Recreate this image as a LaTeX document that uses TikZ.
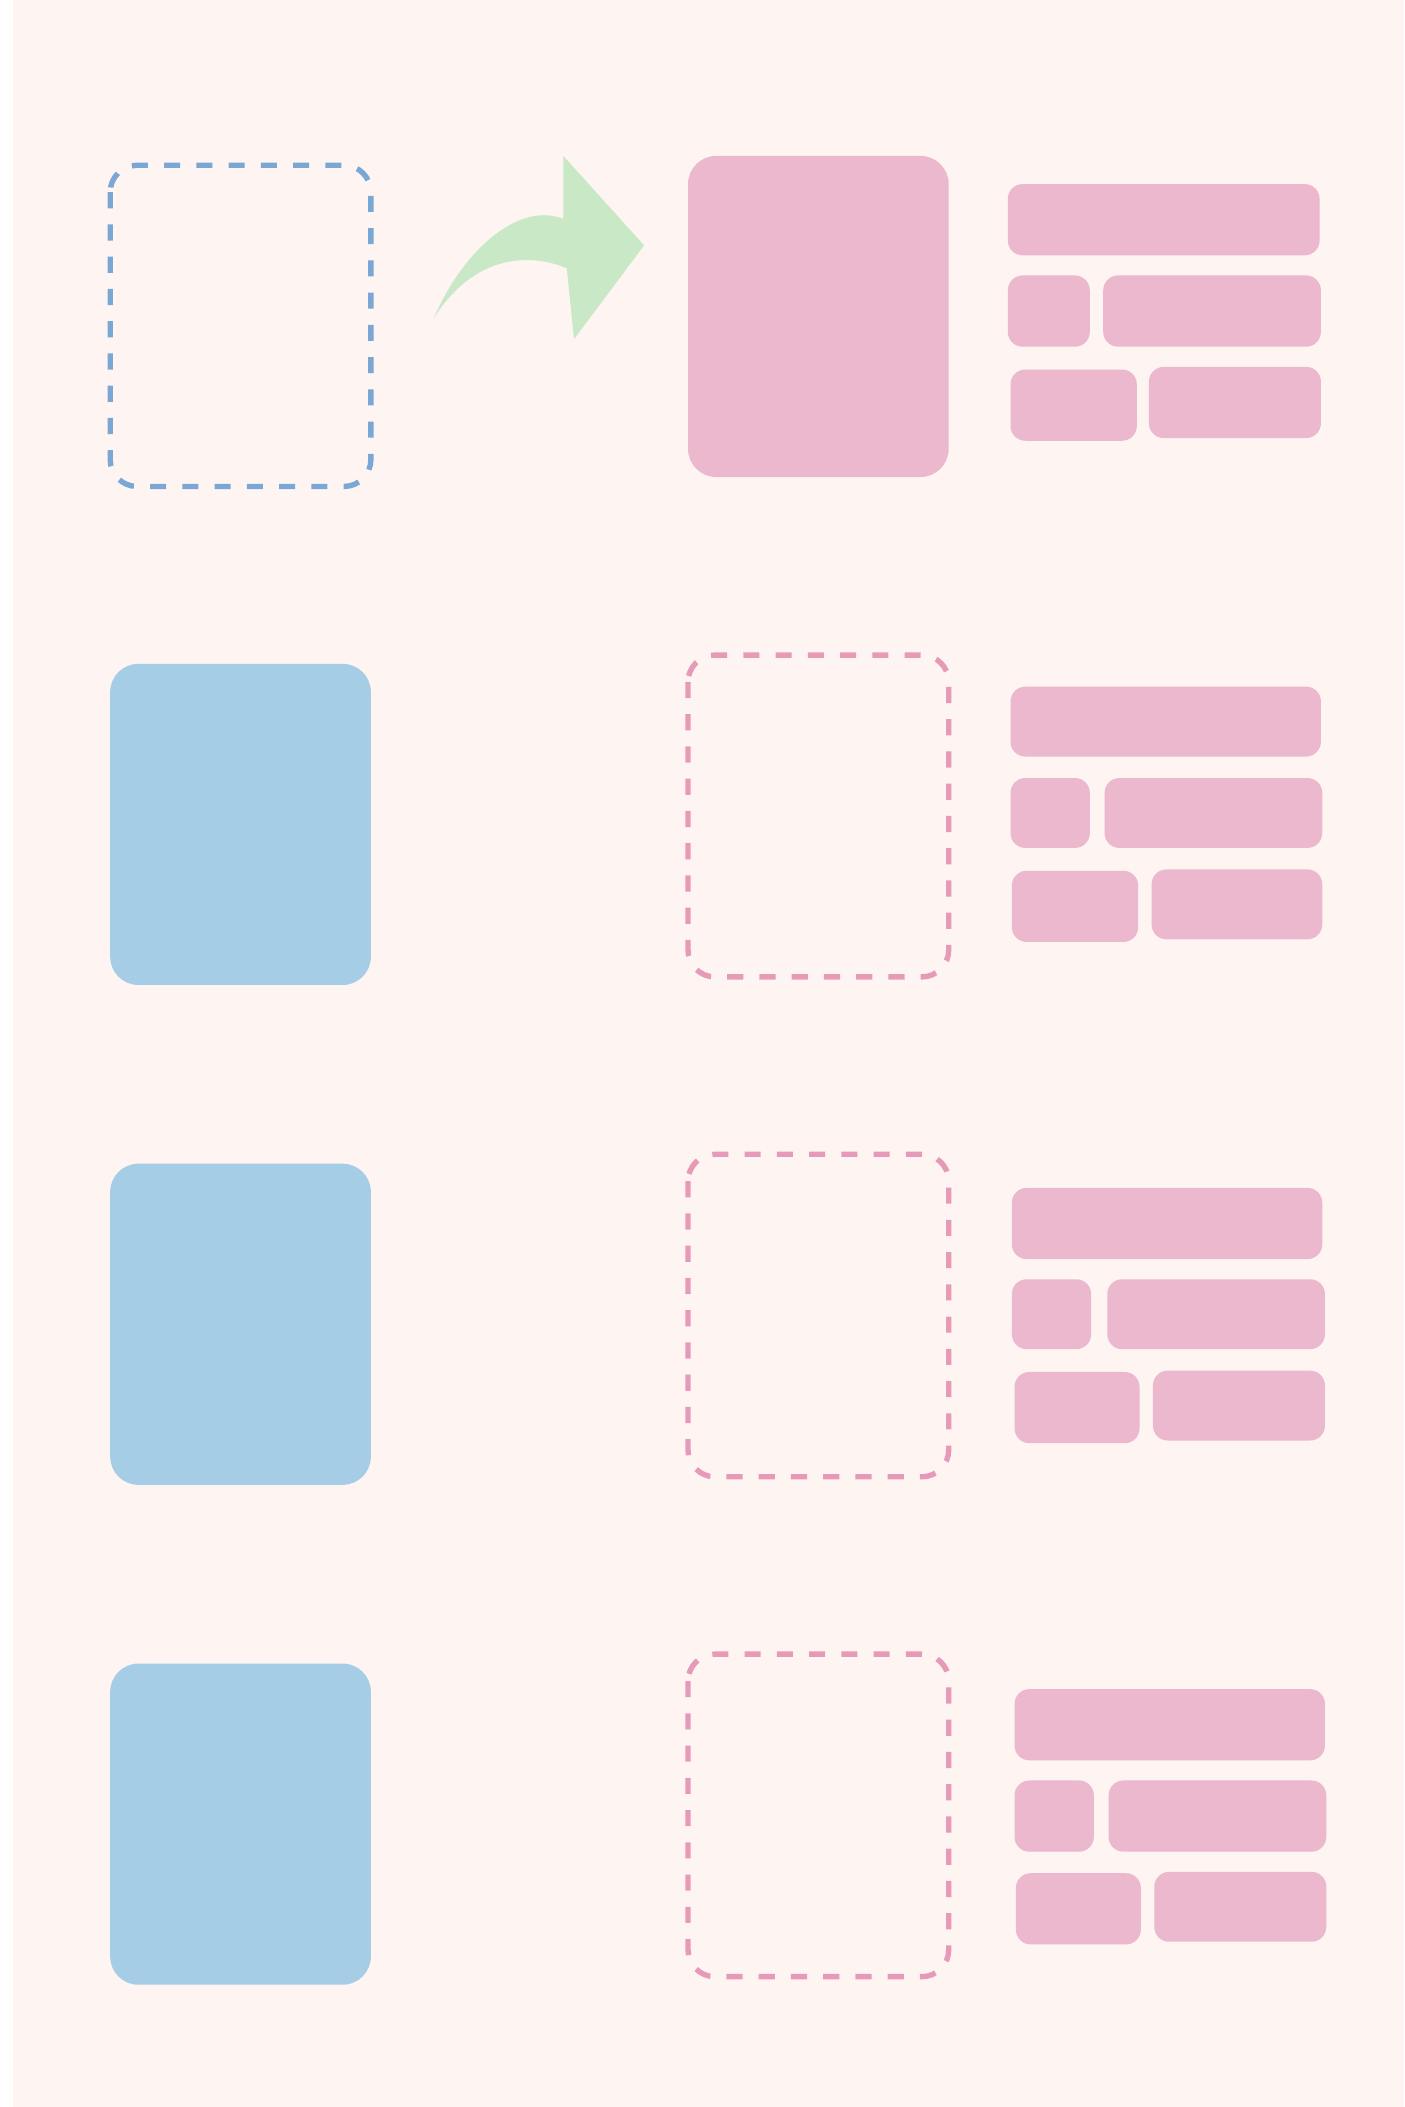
\documentclass[tikz,border=0pt]{standalone}
\begin{document}
\begin{tikzpicture}[x=1pt,y=-1pt,
  bgfill/.style={fill=bgpink},
  bluedash/.style={draw=dashblue,line width=4pt,dash pattern=on 12pt off 12pt,rounded corners=20pt},
  pinkdash/.style={draw=dashpink,line width=4pt,dash pattern=on 12pt off 12pt,rounded corners=20pt},
  bluebox/.style={fill=boxblue,rounded corners=21pt},
  pinkbox/.style={fill=boxpink,rounded corners=21pt},
  tile/.style={fill=boxpink,rounded corners=11pt},
  arrowshape/.style={fill=arrowgreen}]
\definecolor{bgpink}{HTML}{FEF4F2}
\definecolor{dashblue}{HTML}{7BA7D4}
\definecolor{dashpink}{HTML}{E79AB8}
\definecolor{boxblue}{HTML}{A5CDE5}
\definecolor{boxpink}{HTML}{ECB8CE}
\definecolor{arrowgreen}{HTML}{C9E8C6}
\useasboundingbox (0,0) rectangle (1045,1568);
\fill[white] (0,0) rectangle (1045,1568);
\fill[bgfill] (10,0) rectangle (1045,1568);

% row 1
\draw[bluedash] (82,123) rectangle (276,362);
\fill[arrowshape] (322.5,237.4) .. controls (346,183) and (388,150) .. (419.3,163)
  -- (419.3,116.1) -- (479.3,182.6) -- (427.2,252.3) -- (421.8,199.7)
  .. controls (400,190) and (355,185) .. (322.5,237.4) -- cycle;
\fill[pinkbox] (512,116) rectangle (706,355);
\fill[tile] (750,137) rectangle (982,190);
\fill[tile] (750,205) rectangle (811,258);
\fill[tile] (821,205) rectangle (983,258);
\fill[tile] (752,275) rectangle (846,328);
\fill[tile] (855,273) rectangle (983,326);

% row 2
\fill[bluebox] (82,494) rectangle (276,733);
\draw[pinkdash] (512,487.5) rectangle (706,727);
\fill[tile] (752,511) rectangle (983,563);
\fill[tile] (752,579) rectangle (811,631);
\fill[tile] (822,579) rectangle (984,631);
\fill[tile] (753,648) rectangle (847,701);
\fill[tile] (857,647) rectangle (984,699);

% row 3
\fill[bluebox] (82,866) rectangle (276,1105);
\draw[pinkdash] (512,859) rectangle (706,1099);
\fill[tile] (753,884) rectangle (984,937);
\fill[tile] (753,952) rectangle (812,1004);
\fill[tile] (824,952) rectangle (986,1004);
\fill[tile] (755,1021) rectangle (848,1074);
\fill[tile] (858,1020) rectangle (986,1072);

% row 4
\fill[bluebox] (82,1238) rectangle (276,1477);
\draw[pinkdash] (512,1231) rectangle (706,1471);
\fill[tile] (755,1257) rectangle (986,1310);
\fill[tile] (755,1325) rectangle (814,1378);
\fill[tile] (825,1325) rectangle (987,1378);
\fill[tile] (756,1394) rectangle (849,1447);
\fill[tile] (859,1393) rectangle (987,1445);
\end{tikzpicture}
\end{document}
